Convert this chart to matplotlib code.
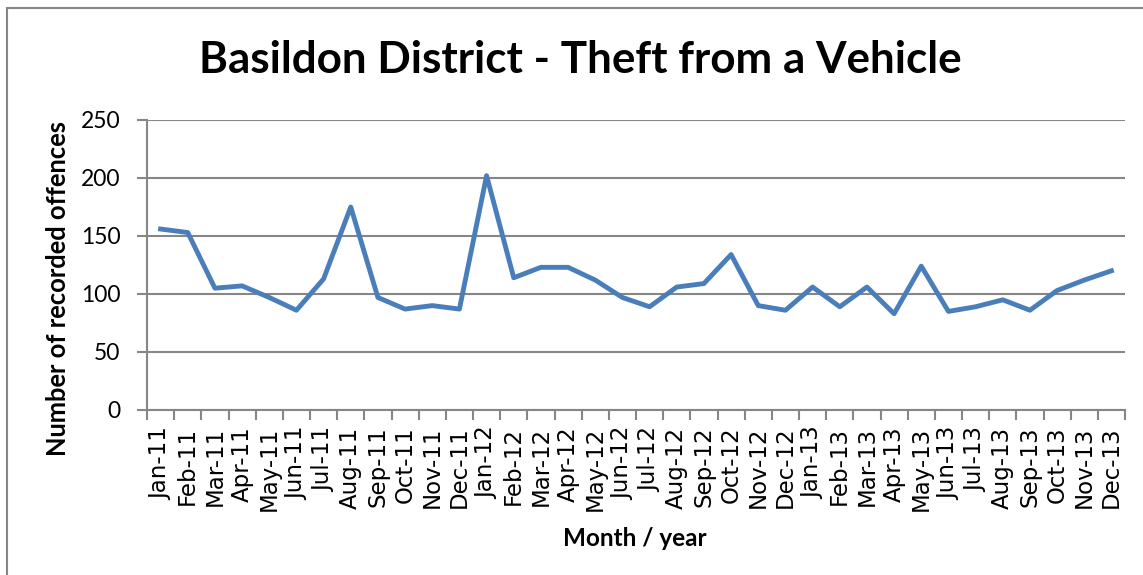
import numpy as np
import matplotlib
matplotlib.use("Agg")
import matplotlib.pyplot as plt
from matplotlib.patches import Rectangle
from matplotlib.font_manager import FontProperties

months = ["Jan", "Feb", "Mar", "Apr", "May", "Jun",
          "Jul", "Aug", "Sep", "Oct", "Nov", "Dec"]
years = ["11", "12", "13"]
labels = [f"{m}-{y}" for y in years for m in months]

offences = [156, 153, 105, 107, 97, 86, 113, 175, 97, 87, 90, 87,
            202, 114, 123, 123, 112, 97, 89, 106, 109, 134, 90, 86,
            106, 89, 106, 83, 124, 85, 89, 95, 86, 103, 112, 120]

yticks = [0, 50, 100, 150, 200, 250]

grey = "#868686"
blue = "#4a7ebb"

fig = plt.figure(figsize=(11.43, 5.75), dpi=100)
ax = fig.add_axes([147 / 1143, 1 - 410 / 575, 978 / 1143, 290 / 575])

x = np.arange(len(offences))
ax.plot(x, offences, color=blue, lw=3.5, solid_joinstyle="round", zorder=3)

ax.set_xlim(-0.5, len(offences) - 0.5)
ax.set_ylim(0, 250)
ax.set_yticks(yticks)
ax.set_yticklabels([str(v) for v in yticks],
                   fontproperties=FontProperties(family="Lato", size=16.5))
ax.set_xticks(x)
ax.set_xticklabels(labels, rotation=90,
                   fontproperties=FontProperties(family="DejaVu Sans", size=16.5))
ax.set_xticks(np.arange(-0.5, len(offences)), minor=True)
ax.tick_params(axis="x", which="major", length=0, pad=12)
ax.tick_params(axis="x", which="minor", length=7, color=grey, width=1.5)
ax.tick_params(axis="y", length=7, color=grey, width=1.5, pad=12)

ax.grid(axis="y", color=grey, lw=1.5)
ax.set_axisbelow(True)
for s in ["top", "right"]:
    ax.spines[s].set_visible(False)
for s in ["left", "bottom"]:
    ax.spines[s].set_color(grey)
    ax.spines[s].set_linewidth(1.5)

ax.set_ylabel("Number of recorded offences", family="Lato", fontweight="bold",
              fontsize=18.4)
ax.yaxis.set_label_coords(-0.079, 0.42)
ax.set_xlabel("Month / year", family="Lato", fontweight="bold", fontsize=17.5)
ax.xaxis.set_label_coords(0.499, -0.403)

fig.text(580 / 1143, 1 - 60 / 575, "Basildon District - Theft from a Vehicle",
         family="Lato", fontweight="bold", fontsize=31.7, ha="center", va="center")

fig.patches.append(Rectangle((7 / 1143, -0.1), 1.2, 1.1 - 8 / 575,
                             transform=fig.transFigure, fill=False,
                             edgecolor=grey, lw=1.5))

fig.savefig("out.png", dpi=100)
